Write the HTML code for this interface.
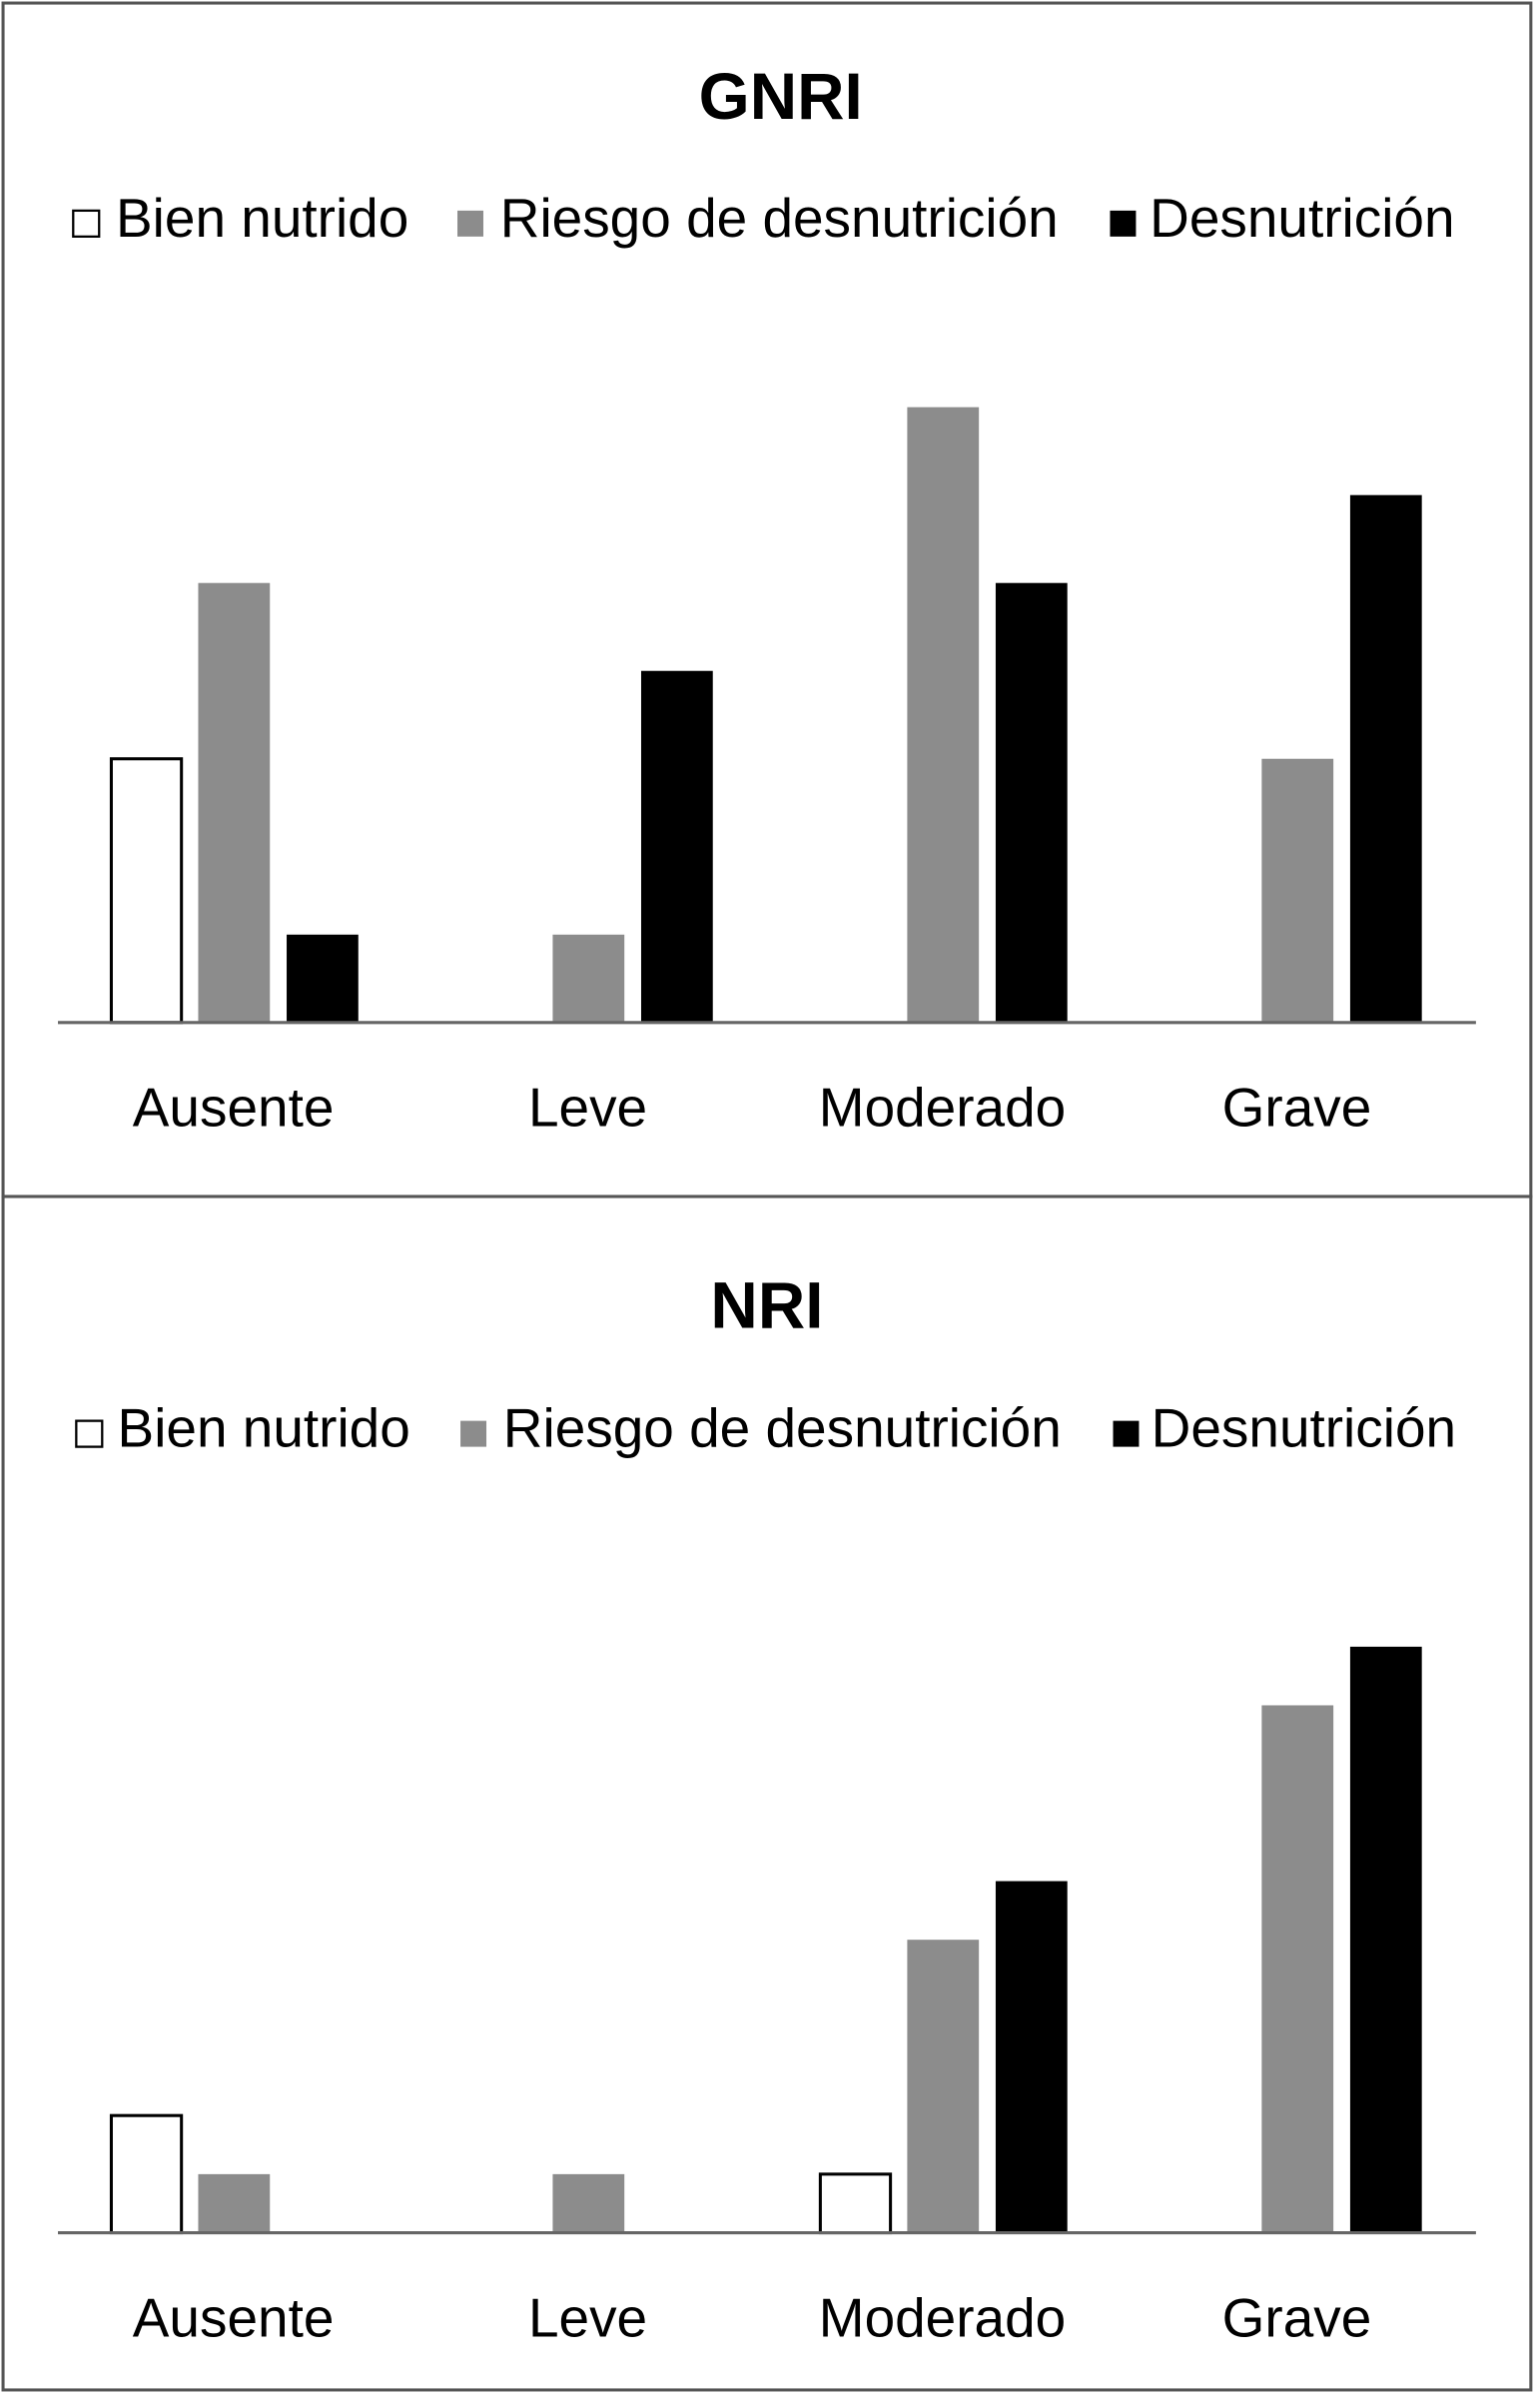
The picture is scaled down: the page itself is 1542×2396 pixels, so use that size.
<!DOCTYPE html>
<html><head><meta charset="utf-8"><style>
html,body{margin:0;padding:0;background:#fff}
svg{display:block}
text{font-family:"Liberation Sans",Arial,sans-serif}
</style></head><body>
<svg id="c" width="1542" height="2396" viewBox="0 0 1010 1568" preserveAspectRatio="none" xmlns="http://www.w3.org/2000/svg">
<rect x="2" y="2" width="1002" height="782" fill="#fff" stroke="#555" stroke-width="2"/>
<rect x="2" y="784" width="1002" height="782" fill="#fff" stroke="#555" stroke-width="2"/>
</svg>
<script>
const categories=["Ausente","Leve","Moderado","Grave"];
const seriesNames=["Bien nutrido","Riesgo de desnutrición","Desnutrición"];
const gnriBien=[3,0,0,0];
const gnriRiesgo=[5,1,7,3];
const gnriDesn=[1,4,5,6];
const nriBien=[2,0,1,0];
const nriRiesgo=[1,1,5,9];
const nriDesn=[0,0,6,10];
const NS="http://www.w3.org/2000/svg";
const svg=document.getElementById('c');
function mk(t,a,txt){const e=document.createElementNS(NS,t);for(const k in a)e.setAttribute(k,a[k]);if(txt!==undefined)e.textContent=txt;svg.appendChild(e);return e;}
const fills=["#fff","#8c8c8c","#000"];
function panel(key,title,titleX,off,base,unit,data,legX,legTX,legY){
  const t=mk('text',{x:titleX,y:off+78,'text-anchor':'middle','font-size':43,'font-weight':'bold'},title);
  
  
  for(let s=0;s<3;s++){
    const r=mk('rect',{x:legX[s],y:legY-17,width:17,height:17,fill:fills[s],stroke:'#000','stroke-width':s==0?1.5:0});
    
    
    const lt=mk('text',{x:legTX[s],y:legY,'font-size':36},seriesNames[s]);
    
    
  }
  const xGroup=i=>153+i*232.5;
  for(let i=0;i<categories.length;i++){
    for(let s=0;s<3;s++){
      const v=data[s][i]; if(!v) continue;
      const h=v*unit;
      const b=mk('rect',{x:xGroup(i)-81+s*58+(s==0?1:0),y:base-h,width:s==0?46:47,height:h,fill:fills[s],stroke:s==0?'#000':'none','stroke-width':2});
      
      
    }
    const ct=mk('text',{x:xGroup(i),y:base+68,'text-anchor':'middle','font-size':36},categories[i]);
    
    
  }
  const ax=mk('line',{x1:38,x2:968,y1:base,y2:base,stroke:'#666','stroke-width':2});
  
  
}
panel('gnri','GNRI',512,0,670,57.6,[gnriBien,gnriRiesgo,gnriDesn],[48,300,728],[76,328,754],155);
panel('nri','NRI',503,792,1463,38.4,[nriBien,nriRiesgo,nriDesn],[50,302,730],[77,330,755],948);
</script>
</body></html>
